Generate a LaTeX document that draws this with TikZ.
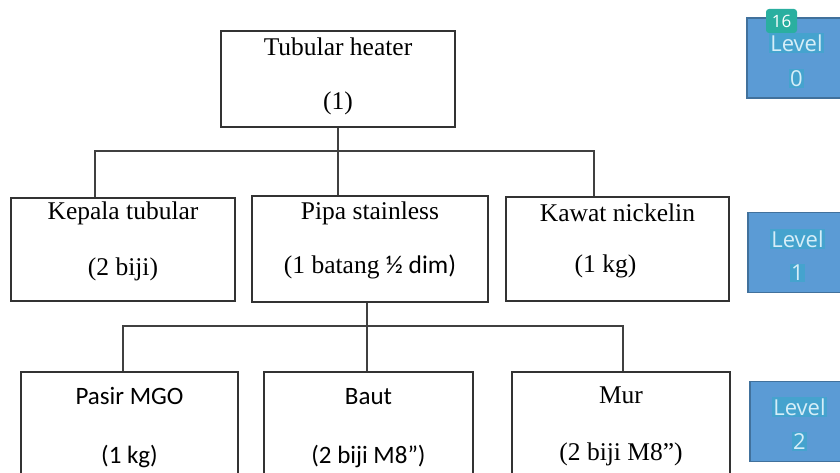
\documentclass[tikz,border=0pt]{standalone}
\usepackage{fontspec}
\setmainfont{Liberation Serif}
\newfontfamily\calibri{Carlito}
\newfontfamily\opensans{Open Sans}
\definecolor{lvlfill}{HTML}{5B9BD5}
\definecolor{lvlborder}{HTML}{41719C}
\definecolor{lvlhl}{HTML}{45A3CE}
\definecolor{lvltext}{HTML}{D6EEF8}
\definecolor{badgecol}{HTML}{2AAFA0}
\begin{document}
\begin{tikzpicture}[x=1pt, y=-1pt, line width=1.2pt,
    main/.style = {draw=black!80, rectangle, inner sep=0pt},
    txt/.style = {anchor=center, inner sep=0pt, font=\fontsize{25.5}{30}\selectfont},
    link/.style = {draw=black!75},
    level/.style = {draw=lvlborder, fill=lvlfill, minimum width=99pt, minimum height=80pt, inner sep=0pt},
    lvltxt/.style = {anchor=center, fill=lvlhl, text=lvltext, inner sep=1.5pt, font=\opensans\fontsize{22}{26}\selectfont},
    badge/.style = {fill=badgecol, rounded corners=3pt, text=white, minimum width=31pt, minimum height=24pt, inner sep=0pt, font=\opensans\fontsize{17}{20}\selectfont}]
    \useasboundingbox (0,0) rectangle (840,473);
    \fill[white] (0,0) rectangle (840,473);
    % level 0
    \node[main, minimum width=234pt, minimum height=96pt,
        label={[txt, yshift=-16pt]north:Tubular heater},
        label={[txt, yshift=-73pt]north:(1)}] (heater) at (338,79) {};
    % level 1
    \node[main, minimum width=224pt, minimum height=103pt,
        label={[txt, yshift=-16pt]north:Kepala tubular},
        label={[txt, yshift=-72pt]north:(2 biji)}] (kepala) at (123,249.5) {};
    \node[main, minimum width=236pt, minimum height=106pt,
        label={[txt, yshift=-18pt]north:Pipa stainless},
        label={[txt, yshift=-72pt]north:(1 batang {\calibri ½ dim)}}] (pipa) at (370,249) {};
    \node[main, minimum width=223pt, minimum height=104pt,
        label={[txt, yshift=-16pt]north:Kawat nickelin},
        label={[txt, yshift=-70pt, xshift=-12pt]north:(1 kg)}] (kawat) at (617.5,249) {};
    % level 2
    \node[main, minimum width=217pt, minimum height=110pt,
        label={[txt, font=\calibri\fontsize{25}{30}\selectfont, yshift=-25pt]north:Pasir MGO},
        label={[txt, font=\calibri\fontsize{25}{30}\selectfont, yshift=-85pt]north:(1 kg)}] (pasir) at (129.5,427) {};
    \node[main, minimum width=209pt, minimum height=110pt,
        label={[txt, font=\calibri\fontsize{25}{30}\selectfont, yshift=-25pt]north:Baut},
        label={[txt, font=\calibri\fontsize{25}{30}\selectfont, yshift=-85pt]north:(2 biji M8”)}] (baut) at (368.5,427) {};
    \node[main, minimum width=218pt, minimum height=110pt,
        label={[txt, yshift=-24pt]north:Mur},
        label={[txt, yshift=-83pt]north:(2 biji M8”)}] (mur) at (621,427) {};
    % connectors
    \coordinate (busL) at (95,151);
    \coordinate (busR) at (594,151);
    \coordinate (busL2) at (123,326);
    \coordinate (busR2) at (623,326);
    \coordinate (stem) at (367,326);
    \draw[link] (heater.south) -- (pipa.north -| heater.south);
    \draw[link] (kepala.north -| busL) -- (busL) -- (busR) -- (kawat.north -| busR);
    \draw[link] (pipa.south -| stem) -- (baut.north -| stem);
    \draw[link] (pasir.north -| busL2) -- (busL2) -- (busR2) -- (mur.north -| busR2);
    % level boxes
    \node[level, label={[lvltxt, yshift=-26pt]north:Level}, label={[lvltxt, yshift=-61pt]north:0}] (lvl0) at (796.5,58) {};
    \node[level, label={[lvltxt, yshift=-27pt]north:Level}, label={[lvltxt, yshift=-61pt]north:1}] (lvl1) at (797.5,252.5) {};
    \node[level, label={[lvltxt, yshift=-26pt]north:Level}, label={[lvltxt, yshift=-61pt]north:2}] (lvl2) at (799.5,421.5) {};
    \node[badge] (page) at (781.5,21) {16};
\end{tikzpicture}
\end{document}
